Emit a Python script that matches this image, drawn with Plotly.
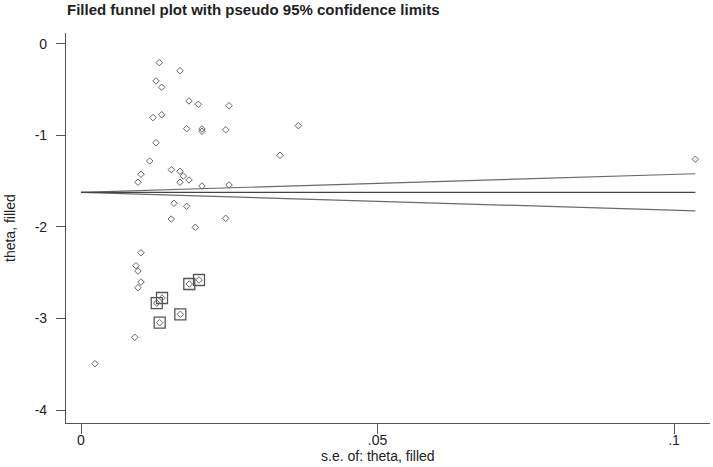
import plotly.graph_objects as go

# Observed studies: standard error and effect (theta)
obs_se = [0.01320, 0.01669, 0.01265, 0.01361, 0.01821, 0.01978, 0.02496, 0.01214,
          0.01361, 0.01782, 0.02040, 0.02040, 0.02440, 0.03664, 0.01265, 0.01159,
          0.03356, 0.10359, 0.01523, 0.01669, 0.01725, 0.01012, 0.01821, 0.01669,
          0.00961, 0.02040, 0.02496, 0.01568, 0.01782, 0.01523, 0.02440, 0.01927,
          0.01012, 0.00927, 0.00961, 0.01012, 0.00961, 0.00906, 0.00236]
obs_theta = [-0.204, -0.292, -0.404, -0.473, -0.623, -0.659, -0.674, -0.805,
             -0.773, -0.926, -0.929, -0.954, -0.937, -0.893, -1.079, -1.279,
             -1.216, -1.260, -1.374, -1.391, -1.443, -1.424, -1.486, -1.511,
             -1.511, -1.552, -1.541, -1.741, -1.774, -1.913, -1.905, -2.003,
             -2.281, -2.423, -2.481, -2.601, -2.663, -3.205, -3.494]

# Imputed (filled) studies
fill_se = [0.01826, 0.01990, 0.01366, 0.01277, 0.01675, 0.01327]
fill_theta = [-2.623, -2.579, -2.776, -2.831, -2.954, -3.046]

# Pseudo 95% confidence limits (read at se = 0 and at the largest se)
funnel_se = [0.0, 0.1036]
funnel_center = [-1.621, -1.621]
funnel_upper = [-1.621, -1.418]
funnel_lower = [-1.621, -1.824]

x_tickvals = [0, 0.05, 0.1]
x_ticktext = ["0", ".05", ".1"]
y_tickvals = [0, -1, -2, -3, -4]
y_ticktext = ["0", "-1", "-2", "-3", "-4"]

FONT = "Liberation Sans, Arial, sans-serif"
AX = "#555555"
TXT = "#222222"

fig = go.Figure()
fig.add_trace(go.Scatter(x=funnel_se, y=funnel_upper, mode="lines",
                         line=dict(color="#6a6a6a", width=1.2), hoverinfo="skip"))
fig.add_trace(go.Scatter(x=funnel_se, y=funnel_lower, mode="lines",
                         line=dict(color="#6a6a6a", width=1.2), hoverinfo="skip"))
fig.add_trace(go.Scatter(x=funnel_se, y=funnel_center, mode="lines",
                         line=dict(color="#444444", width=1.2), hoverinfo="skip"))
fig.add_trace(go.Scatter(x=fill_se, y=fill_theta, mode="markers",
                         marker=dict(symbol="square-open", size=11, color="#555555",
                                     line=dict(color="#555555", width=1.3))))
fig.add_trace(go.Scatter(x=obs_se + fill_se, y=obs_theta + fill_theta, mode="markers",
                         marker=dict(symbol="diamond-open", size=5, color="#666666",
                                     line=dict(color="#666666", width=1))))

fig.update_layout(
    width=713, height=467,
    margin=dict(l=66, r=3, t=33, b=44),
    paper_bgcolor="white", plot_bgcolor="white",
    showlegend=False,
    font=dict(family=FONT, color=TXT, size=14),
    xaxis=dict(range=[-0.00253, 0.10607], tickmode="array",
               tickvals=x_tickvals, ticktext=x_ticktext,
               showgrid=False, zeroline=False, showline=True, linecolor=AX,
               linewidth=1.2, ticks="outside", ticklen=10, tickcolor=AX,
               tickwidth=1.2, tickfont=dict(size=14), ticklabelstandoff=-6),
    yaxis=dict(range=[-4.142, 0.12], tickmode="array",
               tickvals=y_tickvals, ticktext=y_ticktext,
               showgrid=False, zeroline=False, showline=True, linecolor=AX,
               linewidth=1.2, ticks="outside", ticklen=9, tickcolor=AX,
               tickwidth=1.2, tickfont=dict(size=14), ticklabelstandoff=6),
    annotations=[
        dict(text="<b>Filled funnel plot with pseudo 95% confidence limits</b>",
             xref="paper", yref="paper", x=0, y=1, xanchor="left", yanchor="bottom",
             xshift=-1, yshift=13, showarrow=False, font=dict(size=15, color=TXT)),
        dict(text="s.e. of: theta, filled", xref="x", yref="paper", x=0.05, y=0,
             xanchor="center", yanchor="top", yshift=-23, showarrow=False,
             font=dict(size=14, color=TXT)),
        dict(text="theta, filled", xref="paper", yref="paper", x=0, y=0.5,
             xanchor="center", yanchor="middle", xshift=-56, textangle=-90,
             showarrow=False, font=dict(size=14, color=TXT)),
    ],
)

fig.write_html("out.html", config={"displayModeBar": False},
               post_script="document.body.style.margin='0';")
